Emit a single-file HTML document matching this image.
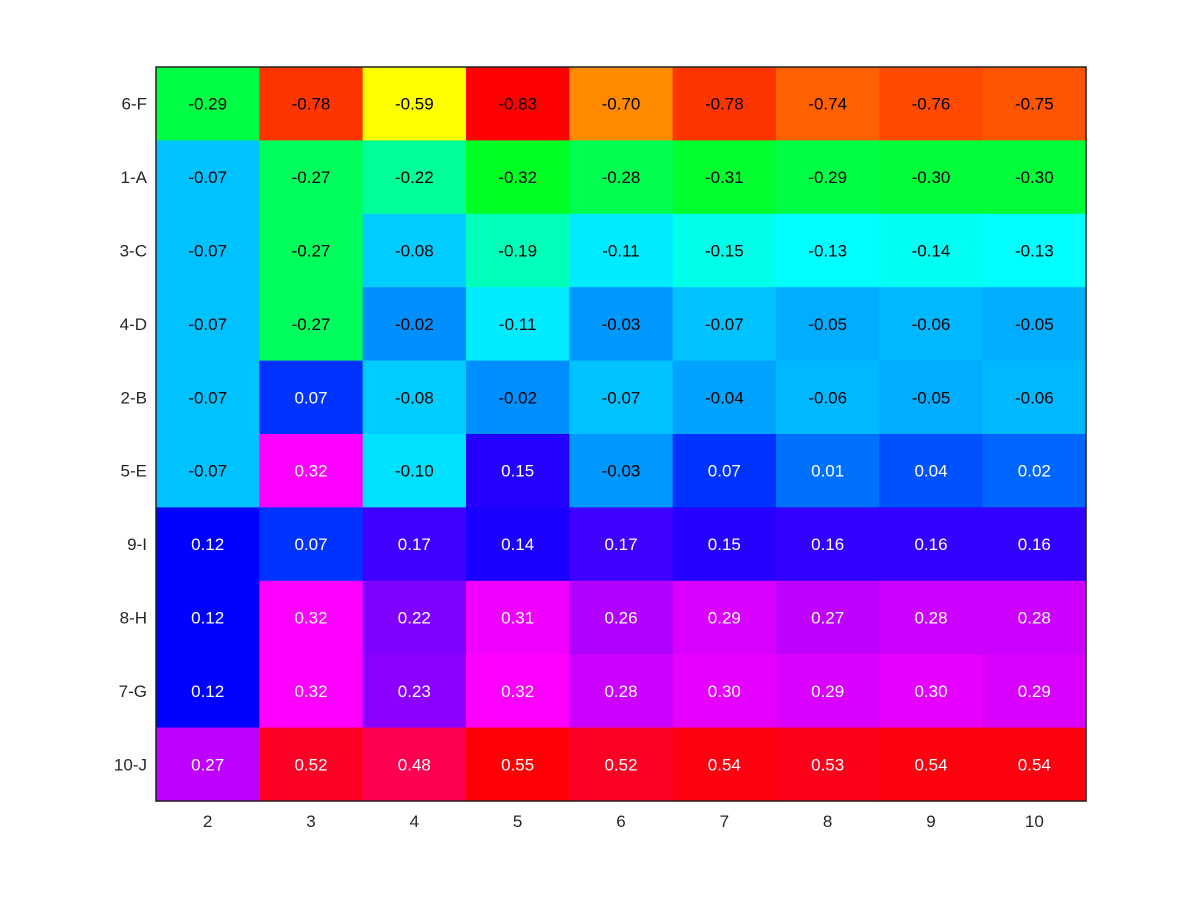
<!DOCTYPE html>
<html><head><meta charset="utf-8"><style>
body{margin:0;background:#fff;}
svg text{font-family:"Liberation Sans",sans-serif;}
</style></head><body>
<svg id="chart" width="1200" height="900" xmlns="http://www.w3.org/2000/svg">
<rect width="1200" height="900" fill="#fff"/>
<g id="cells"></g>
<g id="labels"></g>
<rect x="156" y="67" width="930" height="734" fill="none" stroke="#222" stroke-width="1.5"/>
</svg>
<script>
const xCategories = ["2","3","4","5","6","7","8","9","10"];
const yCategories = ["6-F","1-A","3-C","4-D","2-B","5-E","9-I","8-H","7-G","10-J"];
const rowF = [-0.29,-0.78,-0.59,-0.83,-0.70,-0.78,-0.74,-0.76,-0.75];
const rowA = [-0.07,-0.27,-0.22,-0.32,-0.28,-0.31,-0.29,-0.30,-0.30];
const rowC = [-0.07,-0.27,-0.08,-0.19,-0.11,-0.15,-0.13,-0.14,-0.13];
const rowD = [-0.07,-0.27,-0.02,-0.11,-0.03,-0.07,-0.05,-0.06,-0.05];
const rowB = [-0.07,0.07,-0.08,-0.02,-0.07,-0.04,-0.06,-0.05,-0.06];
const rowE = [-0.07,0.32,-0.10,0.15,-0.03,0.07,0.01,0.04,0.02];
const rowI = [0.12,0.07,0.17,0.14,0.17,0.15,0.16,0.16,0.16];
const rowH = [0.12,0.32,0.22,0.31,0.26,0.29,0.27,0.28,0.28];
const rowG = [0.12,0.32,0.23,0.32,0.28,0.30,0.29,0.30,0.29];
const rowJ = [0.27,0.52,0.48,0.55,0.52,0.54,0.53,0.54,0.54];
const values = [rowF,rowA,rowC,rowD,rowB,rowE,rowI,rowH,rowG,rowJ];

const NS="http://www.w3.org/2000/svg";
const X0=156,Y0=67,W=930,H=734;
const cw=W/xCategories.length, ch=H/yCategories.length;
const xPos=i=>X0+i*cw, yPos=j=>Y0+j*ch;
// colormap anchors (value fraction of range -> hue)
const cmapStops=[[-0.83,0],[-0.59,60],[-0.32,128],[-0.13,180],[0.12,240],[0.32,300],[0.55,359]];
function color(v){
  let h=cmapStops[0][1];
  if(v>=cmapStops[cmapStops.length-1][0]) h=cmapStops[cmapStops.length-1][1];
  else for(let k=0;k<cmapStops.length-1;k++){const a=cmapStops[k],b=cmapStops[k+1];
    if(v>=a[0]&&v<=b[0]){h=a[1]+(v-a[0])/(b[0]-a[0])*(b[1]-a[1]);break;}}
  return `hsl(${h},100%,50%)`;
}
const cells=document.getElementById('cells'), labels=document.getElementById('labels');
values.forEach((row,j)=>row.forEach((v,i)=>{
  const r=document.createElementNS(NS,'rect');
  
  
  r.setAttribute('x',xPos(i));r.setAttribute('y',yPos(j));
  r.setAttribute('width',cw+0.6);r.setAttribute('height',ch+0.6);
  r.setAttribute('fill',color(v));cells.appendChild(r);
  const t=document.createElementNS(NS,'text');
  
  
  t.setAttribute('x',xPos(i)+cw/2);t.setAttribute('y',yPos(j)+ch/2+6);
  t.setAttribute('text-anchor','middle');t.setAttribute('font-size','17');
  t.setAttribute('fill',v<0?'#000':'#fff');t.textContent=v.toFixed(2);labels.appendChild(t);
}));
xCategories.forEach((c,i)=>{
  const t=document.createElementNS(NS,'text');
  
  
  t.setAttribute('x',xPos(i)+cw/2);t.setAttribute('y',827);
  t.setAttribute('text-anchor','middle');t.setAttribute('font-size','17');t.setAttribute('fill','#262626');
  t.textContent=c;labels.appendChild(t);
});
yCategories.forEach((c,j)=>{
  const t=document.createElementNS(NS,'text');
  
  
  t.setAttribute('x',147);t.setAttribute('y',yPos(j)+ch/2+6);
  t.setAttribute('text-anchor','end');t.setAttribute('font-size','17');t.setAttribute('fill','#262626');
  t.textContent=c;labels.appendChild(t);
});
</script>
</body></html>
